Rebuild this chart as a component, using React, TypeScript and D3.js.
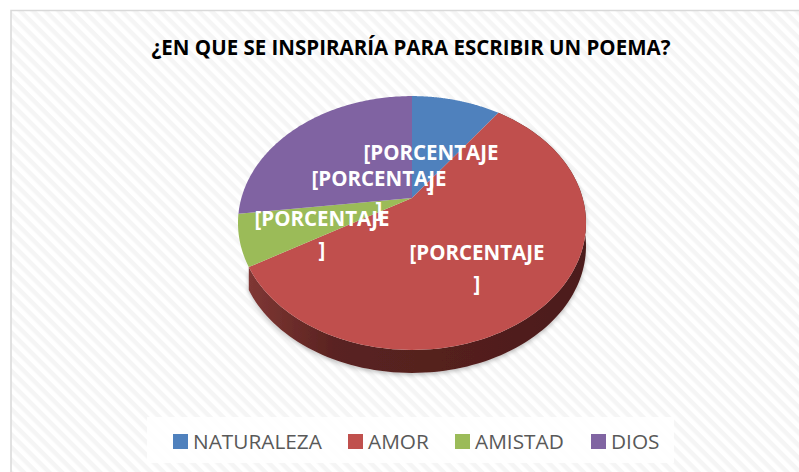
import React, { useEffect, useRef } from 'react';
import * as d3 from 'd3';

const title = '¿EN QUE SE INSPIRARÍA PARA ESCRIBIR UN POEMA?';
const categories = ['NATURALEZA', 'AMOR', 'AMISTAD', 'DIOS'];
const values = [10, 56.5, 6.5, 27];
const colors = ['#4f81bd', '#c0504d', '#9bbb59', '#8064a2'];
const labelLines = ['[PORCENTAJE', ']'];

// where each data label is centred, relative to the pie apex
const labelOffsets = [[19, -38], [65, 62], [-90, 28], [-33, -12]];

const width = 799;
const height = 472;
const apex = { x: 412, y: 198 };
// perspective of the tilted disc
const tilt = 0.197;
const radiusX = 170.6;
const radiusY = 122;
const depth = 23;

const rim = (a: number): [number, number] => {
  const w = 1 + tilt * Math.cos(a);
  return [apex.x + (radiusX * Math.sin(a)) / w, apex.y - (radiusY * Math.cos(a)) / w];
};

const App = () => {
  const ref = useRef<SVGSVGElement>(null);

  useEffect(() => {
    const svg = d3.select(ref.current);
    svg.selectAll('*').remove();

    const defs = svg.append('defs');
    const pattern = defs
      .append('pattern')
      .attr('id', 'stripes')
      .attr('patternUnits', 'userSpaceOnUse')
      .attr('width', 9)
      .attr('height', 9)
      .attr('patternTransform', 'rotate(45)');
    pattern.append('rect').attr('width', 9).attr('height', 9).attr('fill', '#ffffff');
    pattern.append('rect').attr('width', 9).attr('height', 4.5).attr('fill', '#f5f5f5');

    const wallGradient = defs
      .append('linearGradient')
      .attr('id', 'wall')
      .attr('gradientUnits', 'userSpaceOnUse')
      .attr('x1', 249)
      .attr('x2', 586)
      .attr('y1', 0)
      .attr('y2', 0);
    wallGradient.append('stop').attr('offset', '0%').attr('stop-color', '#7f3734');
    wallGradient.append('stop').attr('offset', '25%').attr('stop-color', '#5a2321');
    wallGradient.append('stop').attr('offset', '100%').attr('stop-color', '#4c1c1b');

    const soft = defs.append('filter').attr('id', 'soft');
    soft.append('feGaussianBlur').attr('stdDeviation', 0.5);

    const shadow = defs
      .append('filter')
      .attr('id', 'shadow')
      .attr('x', '-10%')
      .attr('y', '-10%')
      .attr('width', '120%')
      .attr('height', '120%');
    shadow
      .append('feDropShadow')
      .attr('dx', 0)
      .attr('dy', 2)
      .attr('stdDeviation', 2)
      .attr('flood-color', '#000')
      .attr('flood-opacity', 0.25);

    // background + frame
    svg.append('rect').attr('width', width).attr('height', height).attr('fill', '#fff');
    svg
      .append('rect')
      .attr('x', 11)
      .attr('y', 10.5)
      .attr('width', width + 20)
      .attr('height', height + 20)
      .attr('fill', 'url(#stripes)')
      .attr('stroke', '#d9d9d9')
      .attr('stroke-width', 1.5);

    svg
      .append('text')
      .attr('x', 411)
      .attr('y', 55)
      .attr('text-anchor', 'middle')
      .attr('font-family', '"Open Sans", sans-serif')
      .attr('font-weight', 700)
      .attr('font-size', 20.5)
      .attr('fill', '#000')
      .text(title);

    // slices
    const pie = d3.pie<number>().sort(null).value(d => d);
    const arcs = pie(values);
    const line = d3.line();
    const sample = (a0: number, a1: number) =>
      d3.range(0, 121).map(i => rim(a0 + ((a1 - a0) * i) / 120));

    // side wall of the big slice, the top face hides the rest of it
    const wallPoints = sample(arcs[1].startAngle, arcs[1].endAngle);
    const wallBottom = wallPoints.map(([x, y]) => [x, y + depth] as [number, number]).reverse();
    svg
      .append('path')
      .attr('d', line([...wallPoints, ...wallBottom]) + 'Z')
      .attr('fill', 'url(#wall)')
      .attr('filter', 'url(#shadow)');

    const chart = svg.append('g').attr('filter', 'url(#soft)');
    chart
      .selectAll('path')
      .data(arcs)
      .enter()
      .append('path')
      .attr('d', d => line([[apex.x, apex.y], ...sample(d.startAngle, d.endAngle)]) + 'Z')
      .attr('fill', (d, i) => colors[i]);

    // data labels
    const labels = svg
      .append('g')
      .attr('font-family', '"Open Sans", sans-serif')
      .attr('font-weight', 700)
      .attr('font-size', 20.5)
      .attr('fill', '#fff')
      .attr('text-anchor', 'middle');
    labelOffsets.forEach(([dx, dy]) => {
      labelLines.forEach((t, j) => {
        labels
          .append('text')
          .attr('x', apex.x + dx)
          .attr('y', apex.y + dy + j * 31)
          .text(t);
      });
    });

    // legend
    svg
      .append('rect')
      .attr('x', 147)
      .attr('y', 417)
      .attr('width', 527)
      .attr('height', 46)
      .attr('fill', '#fff')
      .attr('opacity', 0.85);
    const legendX = [173, 348, 455, 591];
    const legend = svg
      .selectAll('g.legend')
      .data(categories)
      .enter()
      .append('g')
      .attr('class', 'legend')
      .attr('transform', (d, i) => `translate(${legendX[i]},434)`);
    legend
      .append('rect')
      .attr('width', 15)
      .attr('height', 15)
      .attr('fill', (d, i) => colors[i]);
    legend
      .append('text')
      .attr('x', 20)
      .attr('y', 14.5)
      .attr('font-family', '"Open Sans", sans-serif')
      .attr('font-size', 20.8)
      .attr('fill', '#595959')
      .text(d => d);
  }, []);

  return (
    <svg
      ref={ref}
      width={width}
      height={height}
      style={{ position: 'absolute', left: 0, top: 0, display: 'block' }}
    />
  );
};

export default App;
